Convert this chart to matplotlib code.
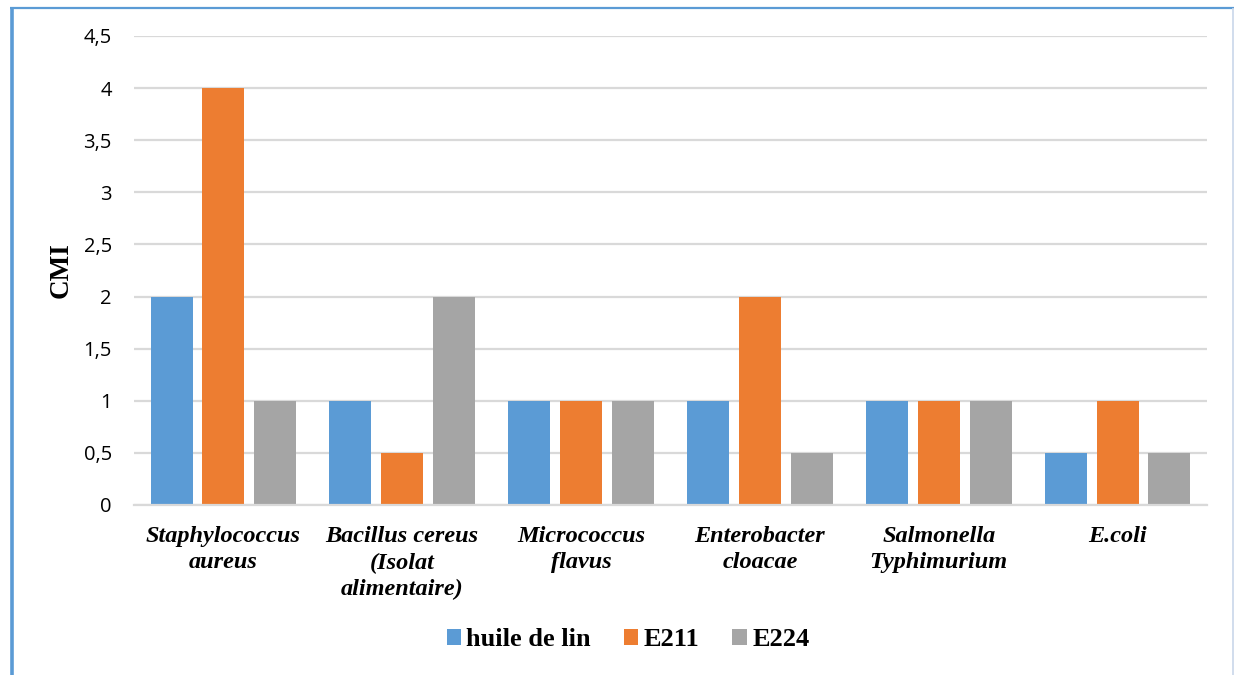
import matplotlib
matplotlib.use("Agg")
import matplotlib.pyplot as plt
import numpy as np
from matplotlib.lines import Line2D
from matplotlib.patches import Patch

categories = [
    "Staphylococcus\naureus",
    "Bacillus cereus\n(Isolat\nalimentaire)",
    "Micrococcus\nflavus",
    "Enterobacter\ncloacae",
    "Salmonella\nTyphimurium",
    "E.coli",
]
series_names = ["huile de lin", "E211", "E224"]
huile_de_lin = [2, 1, 1, 1, 1, 0.5]
e211 = [4, 0.5, 1, 2, 1, 1]
e224 = [1, 2, 1, 0.5, 1, 0.5]
y_ticks = [0, 0.5, 1, 1.5, 2, 2.5, 3, 3.5, 4, 4.5]
y_tick_labels = ["0", "0,5", "1", "1,5", "2", "2,5", "3", "3,5", "4", "4,5"]
colors = ["#5B9BD5", "#ED7D31", "#A5A5A5"]

fig = plt.figure(figsize=(12.34, 6.75), dpi=100)
ax = fig.add_axes([134 / 1234, 1 - 505 / 675, (1207 - 134) / 1234, (505 - 36) / 675])

x = np.arange(len(categories))
width = 0.235
step = 0.29
for i, (vals, col) in enumerate(zip([huile_de_lin, e211, e224], colors)):
    ax.bar(x + (i - 1) * step, vals, width=width, color=col, zorder=3)

ax.set_xlim(-0.5, len(categories) - 0.5)
ax.set_ylim(0, 4.5)
ax.set_yticks(y_ticks)
ax.set_yticklabels(y_tick_labels, fontfamily="Open Sans", fontsize=14.5)
ax.set_xticks(x)
ax.set_xticklabels(categories, fontfamily="Liberation Serif", fontweight="bold",
                   fontstyle="italic", fontsize=17.5, linespacing=1.35)
ax.tick_params(axis="both", length=0)
ax.tick_params(axis="x", pad=15)
ax.tick_params(axis="y", pad=16)

ax.grid(axis="y", color="#D9D9D9", linewidth=1.6, zorder=0)
for side in ["top", "right", "left"]:
    ax.spines[side].set_visible(False)
ax.spines["bottom"].set_color("#D9D9D9")
ax.spines["bottom"].set_linewidth(1.6)
ax.spines["bottom"].set_zorder(4)

ax.set_ylabel("CMI", fontfamily="Liberation Serif", fontweight="bold", fontsize=19.5)
ax.yaxis.set_label_coords(-60 / 1073, 0.5)

handles = [Patch(facecolor=c, edgecolor="none") for c in colors]
fig.legend(handles, series_names, loc="center", bbox_to_anchor=(628 / 1234, 1 - 640 / 675),
           ncol=3, frameon=False, handlelength=0.55, handleheight=0.55, handletextpad=0.2,
           columnspacing=1.25,
           prop={"family": "Liberation Serif", "weight": "bold", "size": 19})

# chart frame
fig.add_artist(Line2D([11.5 / 1234, 11.5 / 1234], [0, 1 - 8 / 675], color="#5B9BD5",
                      linewidth=2.6, transform=fig.transFigure, solid_capstyle="butt"))
fig.add_artist(Line2D([10 / 1234, 1], [1 - 8 / 675, 1 - 8 / 675], color="#5B9BD5",
                      linewidth=1.6, transform=fig.transFigure, solid_capstyle="butt"))
fig.add_artist(Line2D([1233 / 1234, 1233 / 1234], [0, 1 - 8 / 675], color="#C9D7EA",
                      linewidth=1.2, transform=fig.transFigure, solid_capstyle="butt"))

fig.savefig("out.png", dpi=100)
